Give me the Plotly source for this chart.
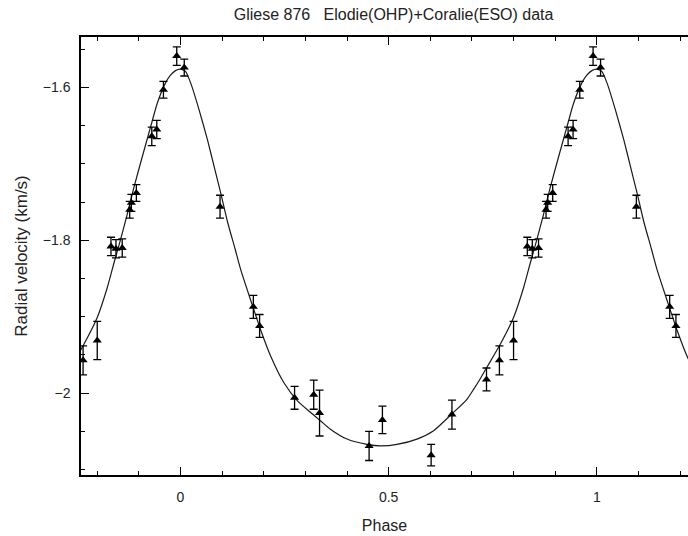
import plotly.graph_objects as go

# Observed radial velocities, folded on the orbital phase (one cycle)
phase = [0.009, 0.095, 0.175, 0.190, 0.274, 0.320, 0.334, 0.453, 0.485, 0.602,
         0.652, 0.735, 0.766, 0.800, 0.833, 0.845, 0.860, 0.878, 0.882, 0.894,
         0.931, 0.943, 0.959, 0.991]
rv = [-1.574, -1.756, -1.887, -1.912, -2.006, -2.002, -2.026, -2.069, -2.035, -2.081,
      -2.028, -1.982, -1.957, -1.931, -1.808, -1.811, -1.810, -1.760, -1.751, -1.738,
      -1.664, -1.655, -1.603, -1.559]
rv_err = [0.011, 0.015, 0.015, 0.015, 0.015, 0.019, 0.030, 0.019, 0.018, 0.014,
          0.019, 0.015, 0.019, 0.025, 0.012, 0.012, 0.012, 0.011, 0.011, 0.011,
          0.012, 0.012, 0.011, 0.012]

# Orbital fit curve (one cycle)
fit_phase = [0.000, 0.012, 0.025, 0.045, 0.065, 0.081, 0.097, 0.113, 0.131, 0.145,
             0.169, 0.193, 0.217, 0.248, 0.281, 0.312, 0.336, 0.360, 0.400, 0.448,
             0.480, 0.520, 0.568, 0.608, 0.652, 0.688, 0.704, 0.720, 0.736, 0.768,
             0.800, 0.824, 0.840, 0.856, 0.872, 0.888, 0.908, 0.928, 0.944, 0.964,
             0.976, 0.988]
fit_rv = [-1.576, -1.579, -1.595, -1.630, -1.669, -1.704, -1.739, -1.776, -1.811, -1.839,
          -1.879, -1.918, -1.952, -1.986, -2.010, -2.025, -2.036, -2.047, -2.060, -2.067,
          -2.069, -2.067, -2.060, -2.049, -2.027, -2.008, -1.995, -1.981, -1.966, -1.936,
          -1.901, -1.862, -1.830, -1.799, -1.766, -1.731, -1.691, -1.652, -1.621, -1.594,
          -1.584, -1.578]

cycles = [-1, 0, 1]
x_ticks = [0, 0.5, 1]
y_ticks = [-2.0, -1.8, -1.6]

# phase-fold repeated over neighbouring cycles
px = [p + c for c in cycles for p in phase]
py = [v for c in cycles for v in rv]
pe = [e for c in cycles for e in rv_err]
fx = [p + c for c in cycles for p in fit_phase] + [fit_phase[0] + 2]
fy = [v for c in cycles for v in fit_rv] + [fit_rv[0]]

FONT = "Liberation Sans, Arial, Helvetica, sans-serif"
TXT = "#222222"

fig = go.Figure()
fig.add_trace(go.Scatter(
    x=fx, y=fy, mode="lines",
    line=dict(color="#1a1a1a", width=1.2, shape="spline", smoothing=0.6),
    hoverinfo="skip", showlegend=False))
fig.add_trace(go.Scatter(
    x=px, y=py, mode="markers",
    marker=dict(symbol="triangle-up", size=8, color="black"),
    error_y=dict(type="data", array=pe, visible=True, color="black",
                 thickness=1.3, width=4),
    showlegend=False))

axis_common = dict(
    showline=True, linecolor="black", linewidth=1.5,
    ticks="inside", ticklen=8, tickwidth=1.2, tickcolor="black",
    showgrid=False, zeroline=False,
    tickfont=dict(family=FONT, size=14, color=TXT),
)

fig.update_layout(
    width=688, height=536,
    margin=dict(l=81, r=0, t=37, b=61),
    paper_bgcolor="white", plot_bgcolor="white",
    title=dict(text="Gliese 876   Elodie(OHP)+Coralie(ESO) data",
               font=dict(family=FONT, size=16, color=TXT),
               x=0.515, xref="paper", xanchor="center",
               y=0.974, yref="container", yanchor="middle"),
    xaxis=dict(
        range=[-0.239, 1.219], tickvals=x_ticks, ticktext=["0", "0.5", "1"],
        mirror="ticks", ticklabelstandoff=8,
        minor=dict(dtick=0.1, tick0=0, ticks="inside", ticklen=4,
                   tickwidth=1, tickcolor="black", showgrid=False),
        title=dict(text="Phase", font=dict(family=FONT, size=16, color=TXT), standoff=16),
        **axis_common),
    yaxis=dict(
        range=[-2.107, -1.534], tickvals=y_ticks, ticktext=["\u22122", "\u22121.8", "\u22121.6"],
        mirror=False, ticklabelstandoff=6,
        minor=dict(dtick=0.05, tick0=-2, ticks="inside", ticklen=4,
                   tickwidth=1, tickcolor="black", showgrid=False),
        title=dict(text="Radial velocity (km/s)", font=dict(family=FONT, size=17, color=TXT),
                   standoff=11),
        **axis_common),
)

fig.write_html("out.html", config={"displayModeBar": False},
               post_script="document.body.style.margin='0';document.body.style.overflow='hidden';")
